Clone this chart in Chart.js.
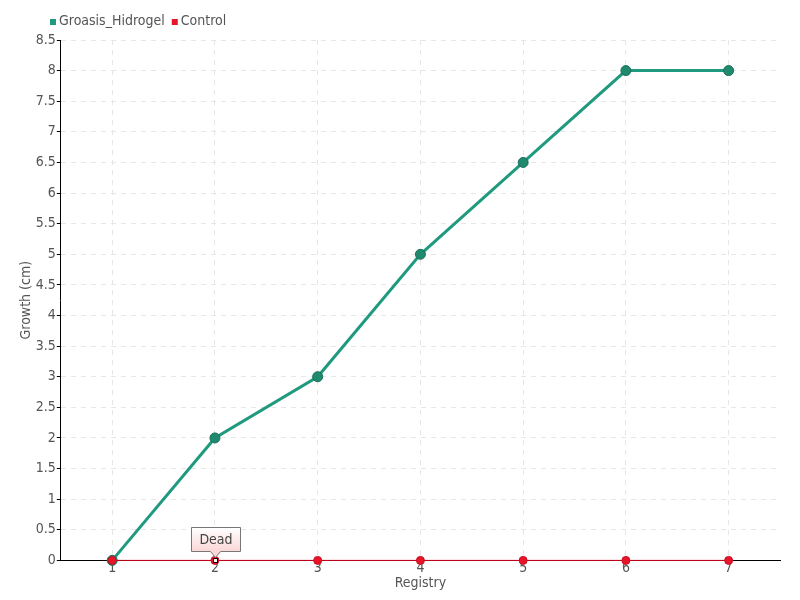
<!DOCTYPE html>
<html>
<head>
<meta charset="utf-8">
<script src="https://cdn.jsdelivr.net/npm/chart.js@4"></script>
<style>
  html, body { margin: 0; padding: 0; background: #fff; }
  #wrap { width: 800px; height: 600px; }
</style>
</head>
<body>
<div id="wrap"><canvas id="growthChart" width="800" height="600"></canvas></div>
<script>
const registry = ['1', '2', '3', '4', '5', '6', '7'];
const groasisHidrogel = [0, 2, 3, 5, 6.5, 8, 8];
const control = [0, 0, 0, 0, 0, 0, 0];
const deadIndex = 1;
const deadLabel = 'Dead';

const FONT = '"Liberation Sans Narrow", "DejaVu Sans Condensed", sans-serif';

// small legend in the top left corner
const topLegend = {
    id: 'topLegend',
    afterDraw(chart) {
        const ctx = chart.ctx;
        ctx.save();
        ctx.font = '14px ' + FONT;
        ctx.textBaseline = 'middle';
        let x = 50;
        const y = 21;
        chart.data.datasets.forEach(ds => {
            ctx.fillStyle = ds.backgroundColor;
            ctx.fillRect(x, y - 2, 6, 6);
            ctx.fillStyle = '#555';
            ctx.fillText(ds.label, x + 9, y);
            x += 9 + ctx.measureText(ds.label).width + 7;
        });
        ctx.restore();
    }
};

// note box above the control point where the plant died
const deadNote = {
    id: 'deadNote',
    afterDatasetsDraw(chart) {
        const pt = chart.getDatasetMeta(1).data[deadIndex];
        if (!pt) return;
        const ctx = chart.ctx;
        const x = Math.round(pt.x) + 0.5, y = Math.round(pt.y) + 0.5;
        ctx.save();
        // square marker
        ctx.fillStyle = '#fff';
        ctx.strokeStyle = '#000';
        ctx.lineWidth = 1;
        ctx.fillRect(x - 2, y - 2, 4, 4);
        ctx.strokeRect(x - 2, y - 2, 4, 4);
        // callout
        const w = 49, h = 24, top = y - 33;
        const left = x - 24;
        const grad = ctx.createLinearGradient(0, top, 0, top + h);
        grad.addColorStop(0, '#ffffff');
        grad.addColorStop(1, '#fbd6d6');
        ctx.beginPath();
        ctx.moveTo(left, top);
        ctx.lineTo(left + w, top);
        ctx.lineTo(left + w, top + h);
        ctx.lineTo(x + 5, top + h);
        ctx.lineTo(x, top + h + 6);
        ctx.lineTo(x - 5, top + h);
        ctx.lineTo(left, top + h);
        ctx.closePath();
        ctx.fillStyle = grad;
        ctx.fill();
        ctx.strokeStyle = '#777';
        ctx.stroke();
        ctx.fillStyle = '#444';
        ctx.font = '14px ' + FONT;
        ctx.textAlign = 'center';
        ctx.textBaseline = 'middle';
        ctx.fillText(deadLabel, left + w / 2, top + h / 2 + 1);
        ctx.restore();
    }
};

Chart.defaults.font.family = FONT;
Chart.defaults.font.size = 14;
Chart.defaults.color = '#555';

new Chart(document.getElementById('growthChart'), {
    type: 'line',
    data: {
        labels: registry,
        datasets: [{
            label: 'Groasis_Hidrogel',
            data: groasisHidrogel,
            order: 1,
            borderColor: '#1f9a7e',
            backgroundColor: '#1f9a7e',
            borderWidth: 3,
            pointRadius: 5,
            pointBackgroundColor: '#1f8a6e',
            pointBorderColor: '#1b6e58',
            pointBorderWidth: 1,
            tension: 0,
            clip: false
        }, {
            label: 'Control',
            data: control,
            order: 0,
            borderColor: '#d0021b',
            backgroundColor: '#e8142a',
            borderWidth: 1,
            pointRadius: 4,
            pointBackgroundColor: '#e8142a',
            pointBorderColor: '#c8101f',
            tension: 0,
            clip: false
        }]
    },
    options: {
        responsive: false,
        animation: false,
        layout: { padding: { left: 18, right: 20, top: 40, bottom: 8 } },
        plugins: {
            legend: { display: false },
            tooltip: { enabled: false }
        },
        scales: {
            x: {
                offset: true,
                title: { display: true, text: 'Registry', color: '#555', padding: { top: -2, bottom: 0 } },
                grid: {
                    color: '#e6e6e6',
                    drawTicks: false,
                    offset: false
                },
                border: { color: '#000', width: 1, dash: [5, 5] },
                ticks: { padding: 0, color: '#555' }
            },
            y: {
                min: 0,
                max: 8.5,
                title: { display: true, text: 'Growth (cm)', color: '#555', padding: 0 },
                grid: {
                    color: '#e6e6e6',
                    tickColor: '#000',
                    tickLength: 4,
                    tickBorderDash: []
                },
                border: { color: '#000', width: 1, dash: [5, 5] },
                ticks: {
                    stepSize: 0.5,
                    padding: 1,
                    color: '#555',
                    callback: v => String(v)
                }
            }
        }
    },
    plugins: [deadNote, topLegend]
});
</script>
</body>
</html>
